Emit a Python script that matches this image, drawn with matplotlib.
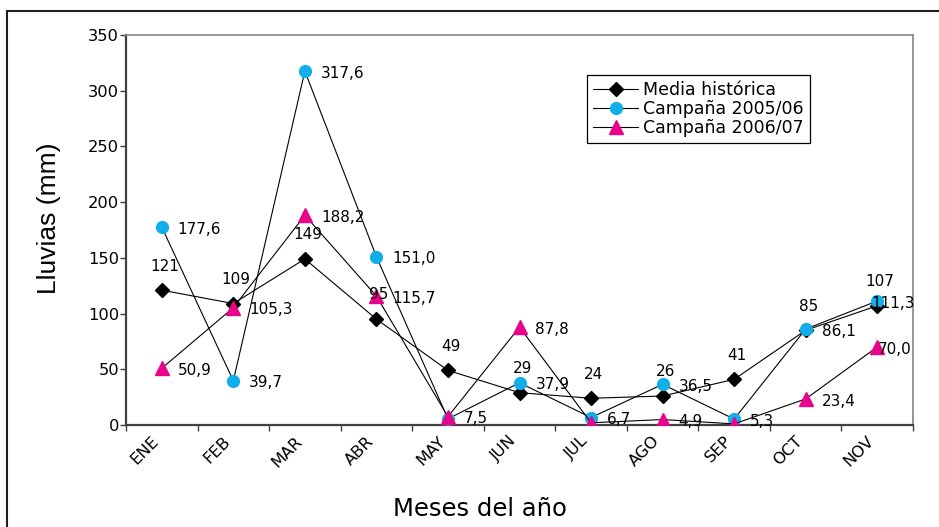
import matplotlib
matplotlib.use("Agg")
import matplotlib.pyplot as plt
from matplotlib.patches import Rectangle
import numpy as np

plt.rcParams['font.family'] = ['DejaVu Sans']

months = ["ENE", "FEB", "MAR", "ABR", "MAY", "JUN", "JUL", "AGO", "SEP", "OCT", "NOV"]
media_historica = [121, 109, 149, 95, 49, 29, 24, 26, 41, 85, 107]
campana_2005_06 = [177.6, 39.7, 317.6, 151.0, 5.5, 37.9, 6.7, 36.5, 5.3, 86.1, 111.3]
campana_2006_07 = [50.9, 105.3, 188.2, 115.7, 7.5, 87.8, 2.0, 4.9, 1.0, 23.4, 70.0]
labels_media = ["121", "109", "149", "95", "49", "29", "24", "26", "41", "85", "107"]
labels_2005_06 = ["177,6", "39,7", "317,6", "151,0", "", "37,9", "6,7", "36,5", "5,3", "86,1", "111,3"]
labels_2006_07 = ["50,9", "105,3", "188,2", "115,7", "7,5", "87,8", "", "4,9", "", "23,4", "70,0"]
yticks = [0, 50, 100, 150, 200, 250, 300, 350]

W, H = 939, 527
fig = plt.figure(figsize=(W / 100, H / 100), dpi=100)
ax = fig.add_axes([126 / W, 1 - 425 / H, (913 - 126) / W, (425 - 35) / H])

x = np.arange(len(months))
cyan = "#12AEEA"
pink = "#E8048A"

ax.plot(x, media_historica, color="black", lw=0.8, marker="D", markersize=7.5,
        markerfacecolor="black", markeredgecolor="black", label="Media histórica", zorder=3)
ax.plot(x, campana_2005_06, color="black", lw=0.8, marker="o", markersize=8.5,
        markerfacecolor=cyan, markeredgecolor=cyan, label="Campaña 2005/06", zorder=3)
ax.plot(x, campana_2006_07, color="black", lw=0.8, marker="^", markersize=9.5,
        markerfacecolor=pink, markeredgecolor=pink, label="Campaña 2006/07", zorder=4)

fs_tick = 11.7
fs_data = 11
n = len(months)
for i in range(n):
    ax.annotate(labels_media[i], (x[i], media_historica[i]), xytext=(2, 12),
                textcoords="offset points", ha="center", va="bottom", fontsize=fs_data, zorder=6)
for labs, vals in ((labels_2005_06, campana_2005_06), (labels_2006_07, campana_2006_07)):
    for i in range(n):
        if not labs[i]:
            continue
        dx = 11.5
        if i == n - 1:
            dx = -4.5 if vals is campana_2005_06 else 0.5
        ax.annotate(labs[i], (x[i], vals[i]), xytext=(dx, -1.5),
                    textcoords="offset points", ha="left", va="center", fontsize=fs_data, zorder=6)

ax.set_xlim(-0.5, n - 0.5)
ax.set_ylim(0, 350)
ax.set_yticks(yticks)
ax.set_yticklabels([str(t) for t in yticks], fontsize=fs_tick)
ax.set_xticks(np.arange(-0.5, n, 1.0))
ax.set_xticklabels([])
ax.set_xticks(x, minor=True)
ax.set_xticklabels(months, minor=True, rotation=45, ha="right", va="top", fontsize=fs_tick)
ax.tick_params(axis="x", which="minor", length=0, pad=6)
ax.tick_params(axis="x", which="major", length=4, width=1, color="#404040", direction="out")
ax.tick_params(axis="y", length=4, width=1, color="#404040", direction="out", pad=1)

for side in ("left", "bottom"):
    ax.spines[side].set_color("#404040")
    ax.spines[side].set_linewidth(1.6)
for side in ("top", "right"):
    ax.spines[side].set_color("#8c8c8c")
    ax.spines[side].set_linewidth(1.3)

fig.text(49 / W, 1 - 218 / H, "Lluvias (mm)", rotation=90, ha="center", va="center",
         fontsize=19, family=["Liberation Sans", "DejaVu Sans"])
fig.text(480 / W, 1 - 509 / H, "Meses del año", ha="center", va="center", fontsize=17.5)

leg = ax.legend(loc="upper left", bbox_to_anchor=(587 / W, 1 - 75 / H),
                bbox_transform=fig.transFigure, fontsize=12.5, frameon=True, fancybox=False,
                edgecolor="black", framealpha=1, borderpad=0.35, labelspacing=0.05,
                handlelength=2.6, handletextpad=0.3, borderaxespad=0)
leg.get_frame().set_linewidth(0.9)

fig.patches.append(Rectangle((7 / W, -0.1), 1.2, 1 - 11 / H + 0.1, transform=fig.transFigure,
                             fill=False, edgecolor="#202020", linewidth=1.5))

fig.savefig("out.png", dpi=100)
